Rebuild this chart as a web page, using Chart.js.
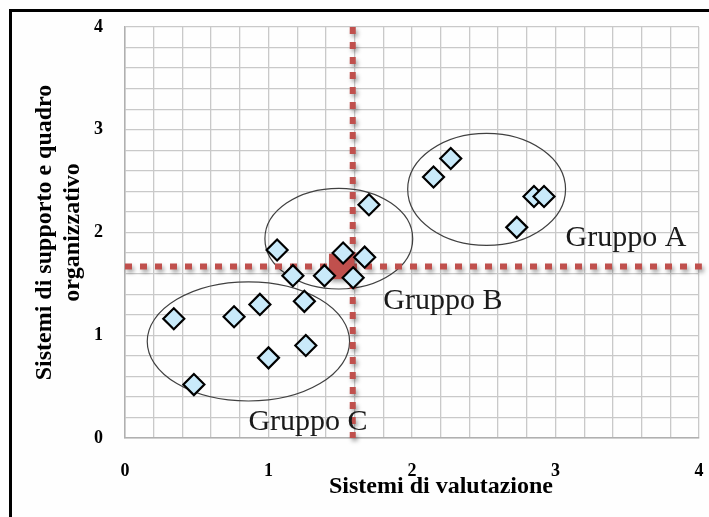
<!DOCTYPE html>
<html>
<head>
<meta charset="utf-8">
<script src="https://cdn.jsdelivr.net/npm/chart.js@4"></script>
<style>
  html, body { margin: 0; padding: 0; background: #fefefe; }
  #wrap { width: 709px; height: 517px; position: relative; }
</style>
</head>
<body>
<div id="wrap"><canvas id="chart"></canvas></div>
<script>
// valutazione (x) / supporto e quadro organizzativo (y)
let pointsX = [0.34, 0.48, 0.76, 0.94, 1.00, 1.06, 1.17, 1.25, 1.26, 1.39, 1.52, 1.59, 1.67, 1.70, 2.15, 2.27, 2.85, 2.92, 2.73];
let pointsY = [1.16, 0.52, 1.18, 1.30, 0.78, 1.83, 1.58, 1.33, 0.90, 1.58, 1.80, 1.56, 1.76, 2.27, 2.54, 2.72, 2.35, 2.35, 2.05];

// medie
let meanX = 1.587;
let meanY = 1.668;
let centerPoint = [1.51, 1.67];

// gruppi: centro e raggi (in unità degli assi)
let groupNames = ['Gruppo A', 'Gruppo B', 'Gruppo C'];
let groupCx = [2.52, 1.49, 0.86];
let groupCy = [2.42, 1.94, 0.94];
let groupRx = [0.55, 0.515, 0.705];
let groupRy = [0.545, 0.49, 0.58];
let labelX = [3.07, 1.80, 0.86];
let labelY = [1.95, 1.33, 0.15];

let xTitle = 'Sistemi di valutazione';
let yTitle = ['Sistemi di supporto e quadro', 'organizzativo'];

let points = [];
for (let i = 0; i < pointsX.length; i++) {
  points.push({ x: pointsX[i], y: pointsY[i] });
}

let red = '#c0504d';
let serif = '"Liberation Serif", "Times New Roman", serif';

function isInt(v) {
  return Math.abs(v - Math.round(v)) < 1e-6;
}

let extras = {
  id: 'extras',
  beforeDraw(chart) {
    let ctx = chart.ctx;
    ctx.save();
    ctx.fillStyle = '#fefefe';
    ctx.fillRect(0, 0, chart.width, chart.height);
    ctx.strokeStyle = '#000';
    ctx.lineWidth = 3;
    ctx.beginPath();
    ctx.moveTo(10.5, chart.height);
    ctx.lineTo(10.5, 10.5);
    ctx.lineTo(chart.width, 10.5);
    ctx.stroke();
    ctx.restore();
  },
  beforeDatasetsDraw(chart) {
    let ctx = chart.ctx;
    let xs = chart.scales.x, ys = chart.scales.y;
    ctx.save();
    ctx.strokeStyle = '#404040';
    ctx.lineWidth = 1.2;
    for (let i = 0; i < groupCx.length; i++) {
      let cx = xs.getPixelForValue(groupCx[i]);
      let cy = ys.getPixelForValue(groupCy[i]);
      let rx = xs.getPixelForValue(groupCx[i] + groupRx[i]) - cx;
      let ry = cy - ys.getPixelForValue(groupCy[i] + groupRy[i]);
      ctx.beginPath();
      ctx.ellipse(cx, cy, rx, ry, 0, 0, Math.PI * 2);
      ctx.stroke();
    }
    ctx.restore();
  },
  beforeDatasetDraw(chart, args) {
    if (chart.data.datasets[args.index].shadow) {
      chart.ctx.save();
      chart.ctx.shadowColor = 'rgba(0,0,0,0.35)';
      chart.ctx.shadowBlur = 4;
      chart.ctx.shadowOffsetX = 2;
      chart.ctx.shadowOffsetY = 3;
    }
  },
  afterDatasetDraw(chart, args) {
    if (chart.data.datasets[args.index].shadow) {
      chart.ctx.restore();
    }
  },
  afterDraw(chart) {
    let ctx = chart.ctx;
    let xs = chart.scales.x, ys = chart.scales.y;
    ctx.save();
    ctx.fillStyle = '#1a1a1a';
    ctx.font = '30px ' + serif;
    ctx.textBaseline = 'middle';
    ctx.textAlign = 'left';
    for (let i = 0; i < groupNames.length; i++) {
      ctx.fillText(groupNames[i], xs.getPixelForValue(labelX[i]), ys.getPixelForValue(labelY[i]));
    }
    // titolo asse x, spostato a destra come nell'originale
    ctx.fillStyle = '#000';
    ctx.font = 'bold 24px ' + serif;
    ctx.textAlign = 'center';
    ctx.fillText(xTitle, (chart.chartArea.left + chart.chartArea.right) / 2 + 29, 487);
    ctx.restore();
  }
};

let options = {
  type: 'scatter',
  plugins: [extras],
  data: {
    datasets: [
      {
        label: 'punti',
        data: points,
        pointStyle: 'rectRot',
        pointRadius: 10.5,
        pointHoverRadius: 10.5,
        backgroundColor: '#c9eafa',
        borderColor: '#000',
        borderWidth: 2.2,
        order: 0,
      },
      {
        label: 'centro',
        data: [{ x: centerPoint[0], y: centerPoint[1] }],
        pointStyle: 'rect',
        pointRadius: 18,
        pointHoverRadius: 18,
        backgroundColor: red,
        borderColor: red,
        borderWidth: 0,
        shadow: true,
        order: 1,
      },
      {
        label: 'media x',
        type: 'line',
        shadow: true,
        data: [{ x: meanX, y: 4 }, { x: meanX, y: 0 }],
        borderColor: red,
        borderWidth: 6,
        borderDash: [7, 8],
        borderCapStyle: 'butt',
        pointRadius: 0,
        clip: false,
        order: 2,
      },
      {
        label: 'media y',
        type: 'line',
        shadow: true,
        data: [{ x: 0, y: meanY }, { x: 4.02, y: meanY }],
        borderColor: red,
        borderWidth: 6,
        borderDash: [7, 8],
        borderCapStyle: 'butt',
        pointRadius: 0,
        clip: false,
        order: 2,
      },
    ],
  },
  options: {
    responsive: true,
    maintainAspectRatio: false,
    animation: false,
    layout: { autoPadding: false, padding: { left: 0, top: 27, right: 10, bottom: 0 } },
    plugins: {
      legend: { display: false },
      tooltip: { enabled: false },
    },
    scales: {
      x: {
        type: 'linear',
        min: 0,
        max: 4,
        afterFit: function (s) {
          s.height = 79;
          s.paddingLeft = 0;
          s.paddingRight = 0;
        },
        grid: { color: '#c9c9c9', lineWidth: 1.3, drawTicks: false },
        border: { color: '#b0b0b0', width: 1.5 },
        ticks: {
          stepSize: 0.2,
          autoSkip: false,
          maxRotation: 0,
          padding: 23,
          color: '#000',
          font: { family: serif, size: 18, weight: 'bold' },
          callback: function (v) { return isInt(v) ? String(Math.round(v)) : ''; },
        },
      },
      y: {
        type: 'linear',
        min: 0,
        max: 4,
        afterFit: function (s) {
          s.width = 125;
          s.paddingTop = 0;
          s.paddingBottom = 0;
        },
        grid: { color: '#c9c9c9', lineWidth: 1.3, drawTicks: false },
        border: { color: '#b0b0b0', width: 1.5 },
        ticks: {
          stepSize: 0.2,
          autoSkip: false,
          padding: 22,
          color: '#000',
          font: { family: serif, size: 18, weight: 'bold' },
          callback: function (v) { return isInt(v) ? String(Math.round(v)) : ''; },
        },
        title: {
          display: true,
          text: yTitle,
          color: '#000',
          padding: { top: 31, bottom: 0 },
          font: { family: serif, size: 24, weight: 'bold', lineHeight: 1.17 },
        },
      },
    },
  },
};

let chart = new Chart(document.querySelector('#chart'), options);
</script>
</body>
</html>
